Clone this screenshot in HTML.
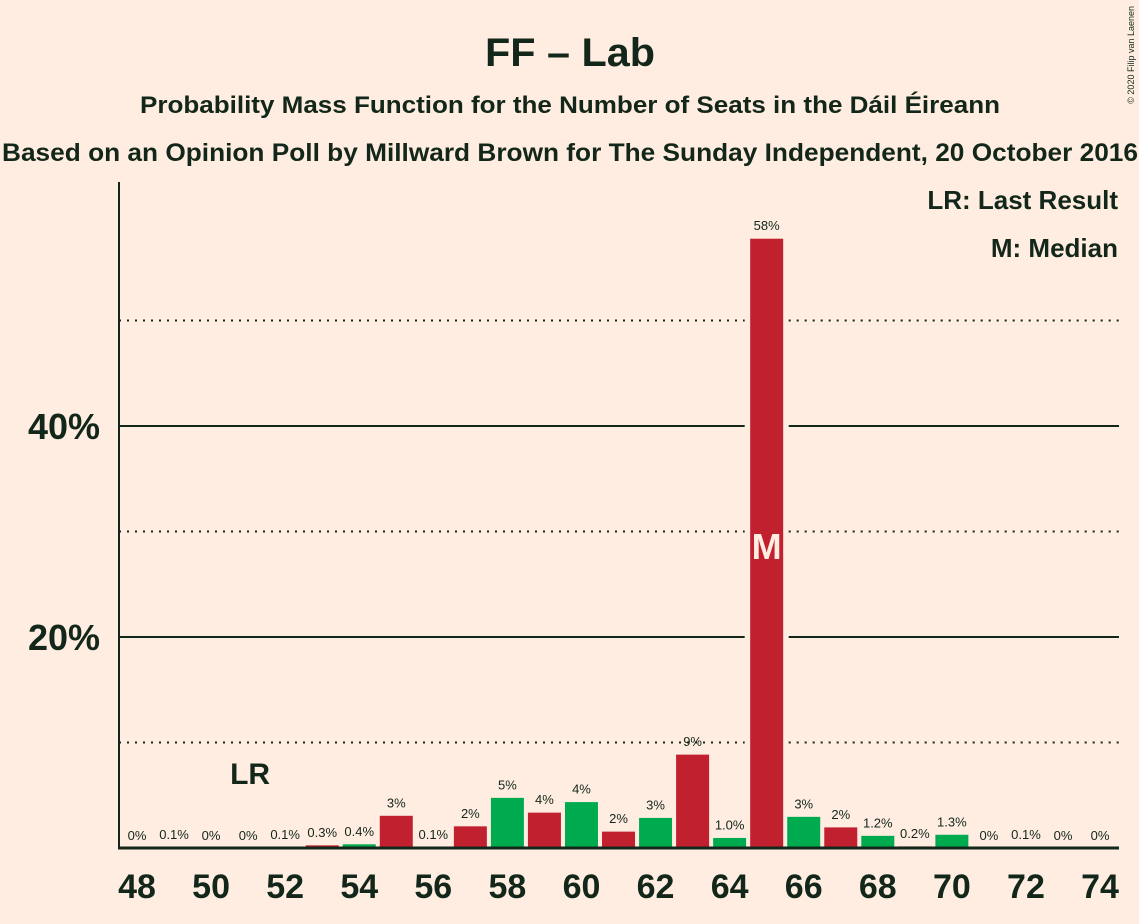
<!DOCTYPE html>
<html><head><meta charset="utf-8"><style>
body{margin:0;background:#FFEDE1;}
svg{display:block;font-family:"Liberation Sans",sans-serif;}
</style></head><body>
<svg id="chart" width="1139" height="924">
<rect width="1139" height="924" fill="#FFEDE1"/>
<text x="570" y="66" text-anchor="middle" font-size="40" font-weight="bold" fill="#13261a" textLength="170" lengthAdjust="spacingAndGlyphs">FF – Lab</text>
<text x="570" y="113" text-anchor="middle" font-size="24" font-weight="bold" fill="#13261a" textLength="860" lengthAdjust="spacingAndGlyphs">Probability Mass Function for the Number of Seats in the Dáil Éireann</text>
<text x="570" y="161" text-anchor="middle" font-size="25" font-weight="bold" fill="#13261a" textLength="1136" lengthAdjust="spacingAndGlyphs">Based on an Opinion Poll by Millward Brown for The Sunday Independent, 20 October 2016</text>
<text x="1134" y="6" transform="rotate(-90 1134 6)" text-anchor="end" font-size="9" fill="#13261a">© 2020 Filip van Laenen</text>
<text x="1118" y="209" text-anchor="end" font-size="26" font-weight="bold" fill="#13261a">LR: Last Result</text>
<text x="1118" y="257" text-anchor="end" font-size="26" font-weight="bold" fill="#13261a">M: Median</text>
<g id="grid"></g>
<g id="bars"></g>
<g id="labels"></g>
<line x1="119" y1="182" x2="119" y2="849" stroke="#13261a" stroke-width="2"/>
<line x1="118" y1="848" x2="1119" y2="848" stroke="#13261a" stroke-width="3"/>
</svg>
<script>
const seats=[48,49,50,51,52,53,54,55,56,57,58,59,60,61,62,63,64,65,66,67,68,69,70,71,72,73,74];
const probs=[0,0.1,0,0,0.1,0.3,0.4,3.1,0.1,2.1,4.8,3.4,4.4,1.6,2.9,8.9,1.0,57.8,3.0,2.0,1.2,0.2,1.3,0,0.1,0,0];
const valueLabels=["0%","0.1%","0%","0%","0.1%","0.3%","0.4%","3%","0.1%","2%","5%","4%","4%","2%","3%","9%","1.0%","58%","3%","2%","1.2%","0.2%","1.3%","0%","0.1%","0%","0%"];
const yTicks=[20,40];
const yMinor=[10,30,50];
const xTickSeats=[48,50,52,54,56,58,60,62,64,66,68,70,72,74];
const lastResult=51, median=65;
const NS="http://www.w3.org/2000/svg";
const x=s=>137+(s-48)*37.04;
const y=v=>848-v*10.55;
function mk(tag,attrs,parent,txt){const e=document.createElementNS(NS,tag);for(const k in attrs)e.setAttribute(k,attrs[k]);if(txt!==undefined)e.textContent=txt;parent.appendChild(e);return e;}
const grid=document.getElementById('grid'),bars=document.getElementById('bars'),labels=document.getElementById('labels');
const gx0=x(median)-22,gx1=x(median)+22;
yMinor.forEach(v=>{[[119,gx0],[gx1,1119]].forEach(([a,b])=>{const l=mk('line',{x1:a,x2:b,y1:y(v),y2:y(v),stroke:'#13261a','stroke-width':2,'stroke-dasharray':'2,6'},grid);

});});
yTicks.forEach(v=>{[[119,gx0],[gx1,1119]].forEach(([a,b])=>{const l=mk('line',{x1:a,x2:b,y1:y(v),y2:y(v),stroke:'#13261a','stroke-width':2},grid);

});
const t=mk('text',{x:100,y:y(v)+13,'text-anchor':'end','font-size':36,'font-weight':'bold',fill:'#13261a'},labels,v+'%');

});
seats.forEach((s,i)=>{const v=probs[i];const c=s%2?'#C1202F':'#00AA4F';
if(v>0){const r=mk('rect',{x:x(s)-17,y:y(v),width:34,height:848-y(v),fill:c,stroke:'#FFEDE1','stroke-width':1},bars);

}
const t=mk('text',{x:x(s),y:y(v)-8,'text-anchor':'middle','font-size':13,fill:'#13261a'},labels,valueLabels[i]);

});
xTickSeats.forEach(s=>{const t=mk('text',{x:x(s),y:898,'text-anchor':'middle','font-size':34,'font-weight':'bold',fill:'#13261a'},labels,s);

});
const lr=mk('text',{x:x(lastResult)+2,y:784,'text-anchor':'middle','font-size':30,'font-weight':'bold',fill:'#13261a'},labels,'LR');


const m=mk('text',{x:x(median),y:559,'text-anchor':'middle','font-size':36,'font-weight':'bold',fill:'#FFEDE1'},labels,'M');


</script>
</body></html>
